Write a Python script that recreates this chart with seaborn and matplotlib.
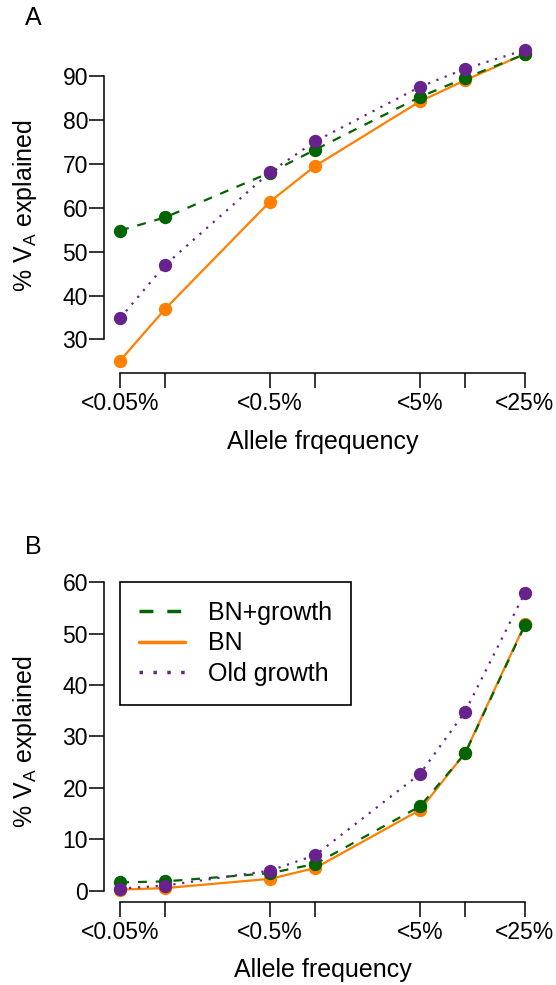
import numpy as np
import seaborn as sns
import matplotlib
matplotlib.use("Agg")
import matplotlib.pyplot as plt
from matplotlib.lines import Line2D
from matplotlib.ticker import NullLocator

# ── Données ──────────────────────────────────────────────────────────────
freq = [0.05, 0.1, 0.5, 1, 5, 10, 25]          # seuil de fréquence allélique (%)
freq_labels = ["<0.05%", "", "<0.5%", "", "<5%", "", "<25%"]

a_bn = [25.2, 37.0, 61.4, 69.5, 84.2, 89.0, 95.0]
a_bn_growth = [54.8, 57.8, 68.0, 73.2, 85.2, 89.5, 94.9]
a_old_growth = [34.9, 47.0, 68.1, 75.1, 87.5, 91.6, 95.9]

b_bn = [0.2, 0.5, 2.3, 4.4, 15.7, 26.8, 51.8]
b_bn_growth = [1.6, 1.8, 3.4, 5.2, 16.4, 26.7, 51.6]
b_old_growth = [0.4, 1.0, 3.9, 6.9, 22.7, 34.8, 57.9]

a_yticks = [30, 40, 50, 60, 70, 80, 90]
b_yticks = [0, 10, 20, 30, 40, 50, 60]

# ── Style ────────────────────────────────────────────────────────────────
sns.set_style("ticks")
plt.rcParams["font.family"] = ["Liberation Sans", "DejaVu Sans"]
plt.rcParams["mathtext.fontset"] = "custom"
plt.rcParams["mathtext.rm"] = "Liberation Sans"
plt.rcParams["mathtext.it"] = "Liberation Sans:italic"
for k in ("text.color", "axes.labelcolor", "xtick.color", "ytick.color"):
    plt.rcParams[k] = "black"

GREEN, ORANGE, PURPLE = "#006400", "#FF7F00", "#68228B"
STYLES = {
    "BN": (ORANGE, "-"),
    "BN+growth": (GREEN, (0, (4, 4))),
    "Old growth": (PURPLE, (0, (1, 3))),
}
FS_TICK = 16.5
FS_LAB = 18

W, H = 556, 985
fig = plt.figure(figsize=(W / 100, H / 100), dpi=100)


def make_axes(top_px, bottom_px):
    return fig.add_axes([104 / W, 1 - bottom_px / H, 437 / W, (bottom_px - top_px) / H])


def draw_panel(ax, series, yticks, xlabel):
    ax.set_xscale("log")
    for name, vals in series:
        color, ls = STYLES[name]
        sns.lineplot(x=freq, y=vals, ax=ax, color=color, linestyle=ls, linewidth=1.6,
                     marker="o", markersize=9.6, markeredgewidth=0,
                     errorbar=None, sort=False, legend=False)
    # marges façon R (4 %)
    allv = np.concatenate([v for _, v in series])
    lo, hi = allv.min(), allv.max()
    pad = 0.04 * (hi - lo)
    ax.set_ylim(lo - pad, hi + pad)
    llo, lhi = np.log10(freq[0]), np.log10(freq[-1])
    lpad = 0.04 * (lhi - llo)
    ax.set_xlim(10 ** (llo - lpad), 10 ** (lhi + lpad))

    ax.set_xticks(freq)
    ax.set_xticklabels(freq_labels)
    ax.xaxis.set_minor_locator(NullLocator())
    ax.set_yticks(yticks)
    ax.spines["top"].set_visible(False)
    ax.spines["right"].set_visible(False)
    ax.spines["left"].set_bounds(yticks[0], yticks[-1])
    ax.spines["bottom"].set_bounds(freq[0], freq[-1])
    for s in ("left", "bottom"):
        ax.spines[s].set_linewidth(1.1)
        ax.spines[s].set_color("black")
    ax.tick_params(axis="both", length=10.5, width=1.1, labelsize=FS_TICK, color="black")
    ax.tick_params(axis="x", pad=3.5)
    ax.tick_params(axis="y", pad=1.0)

    ax.set_xlabel(xlabel, fontsize=FS_LAB)
    ax.set_ylabel(r"% V$_{\mathrm{A}}$ explained", fontsize=FS_LAB)
    h_px = ax.get_position().height * H
    ax.xaxis.set_label_coords(0.5, -57 / h_px)
    ax.yaxis.set_label_coords(-65 / 437, 0.5)


# ── Panneau A ────────────────────────────────────────────────────────────
axA = make_axes(37.5, 373)
draw_panel(axA, [("BN", a_bn), ("BN+growth", a_bn_growth), ("Old growth", a_old_growth)],
           a_yticks, "Allele frqequency")

# ── Panneau B ────────────────────────────────────────────────────────────
axB = make_axes(581, 901.5)
draw_panel(axB, [("BN", b_bn), ("BN+growth", b_bn_growth), ("Old growth", b_old_growth)],
           b_yticks, "Allele frequency")

handles = [Line2D([], [], color=STYLES[n][0], linestyle=STYLES[n][1], linewidth=2.5)
           for n in ["BN+growth", "BN", "Old growth"]]
leg = axB.legend(handles, ["BN+growth", "BN", "Old growth"],
                 loc="upper left", bbox_to_anchor=(freq[0], b_yticks[-1]),
                 bbox_transform=axB.transData, borderaxespad=0,
                 fontsize=FS_LAB, handlelength=1.85, handletextpad=0.9,
                 borderpad=0.75, labelspacing=0.26, fancybox=False, framealpha=1)
leg.get_frame().set_edgecolor("black")
leg.get_frame().set_linewidth(1.2)

fig.text(33 / W, 1 - 18 / H, "A", ha="center", va="center", fontsize=FS_LAB)
fig.text(33 / W, 1 - 547 / H, "B", ha="center", va="center", fontsize=FS_LAB)

fig.savefig("out.png", dpi=100)
